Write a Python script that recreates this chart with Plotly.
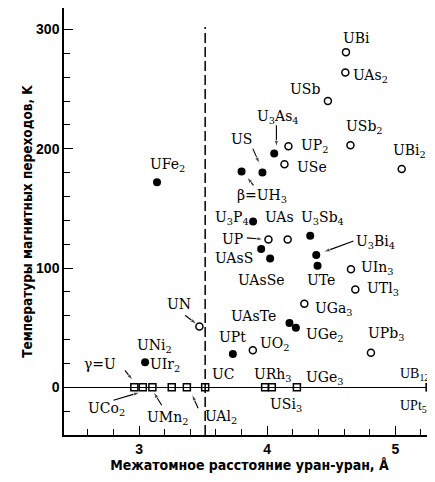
import plotly.graph_objects as go

# ---------------- data ----------------
filled_names = ["UFe2", "U3As4", "US", "β-UH3", "U3P4", "U3Sb4", "UAsS", "UAsSe",
                "U3Bi4", "UTe", "UAsTe", "UGe2", "UPt", "UNi2"]
filled_x = [3.14, 4.055, 3.963, 3.80, 3.89, 4.336, 3.953, 4.023,
            4.383, 4.393, 4.174, 4.224, 3.732, 3.047]
filled_y = [172, 196, 180, 181, 139, 127, 116, 108,
            111, 102, 54, 50, 28, 21]

open_names = ["UBi", "UAs2", "USb", "USb2", "UBi2", "UP2", "USe", "UP", "UAs",
              "UIn3", "UTl3", "UGa3", "UN", "UO2", "UPb3"]
open_x = [4.615, 4.61, 4.474, 4.65, 5.05, 4.166, 4.135, 4.01, 4.16,
          4.654, 4.688, 4.29, 3.471, 3.888, 4.81]
open_y = [281, 264, 240, 203, 183, 202, 187, 124, 124,
          99, 82, 70, 51, 31, 29]

square_names = ["γ-U", "UCo2", "UMn2", "UIr2", "UAl2", "UC", "URh3", "USi3",
                "UGe3", "UB12", "UPt5"]
square_x = [2.963, 3.029, 3.104, 3.255, 3.373, 3.516, 3.984, 4.036,
            4.232, 5.268, 5.278]
square_y = [0, 0, 0, 0, 0, 0, 0, 0, 0, 0, 0]

hill_limit = 3.516

x_title = "Межатомное расстояние уран-уран, Å"
y_title = "Температуры магнитных переходов, K"

# label texts with their placement (left edge x, middle y, in data units)
labels = [
    ("UFe<sub>2</sub>", 3.07, 186),
    ("UBi", 4.577, 293),
    ("UAs<sub>2</sub>", 4.655, 261),
    ("USb", 4.166, 250),
    ("U<sub>3</sub>As<sub>4</sub>", 3.906, 227),
    ("US", 3.70, 208),
    ("UP<sub>2</sub>", 4.245, 202),
    ("USe", 4.22, 185),
    ("USb<sub>2</sub>", 4.60, 218),
    ("UBi<sub>2</sub>", 4.966, 198),
    ("β=UH<sub>3</sub>", 3.745, 160),
    ("U<sub>3</sub>P<sub>4</sub>", 3.576, 142),
    ("UAs", 3.966, 143),
    ("U<sub>3</sub>Sb<sub>4</sub>", 4.252, 142),
    ("UP", 3.633, 124.6),
    ("UAsS", 3.58, 108),
    ("UAsSe", 3.758, 90),
    ("UTe", 4.297, 90),
    ("U<sub>3</sub>Bi<sub>4</sub>", 4.68, 122),
    ("UIn<sub>3</sub>", 4.72, 100),
    ("UTl<sub>3</sub>", 4.766, 82),
    ("UGa<sub>3</sub>", 4.357, 66),
    ("UAsTe", 3.70, 59.5),
    ("UGe<sub>2</sub>", 4.284, 44),
    ("UPb<sub>3</sub>", 4.77, 45),
    ("UPt", 3.607, 42),
    ("UO<sub>2</sub>", 3.932, 36),
    ("UN", 3.203, 70),
    ("UNi<sub>2</sub>", 2.969, 35),
    ("UIr<sub>2</sub>", 3.073, 18.5),
    ("γ=U", 2.552, 19.8),
    ("UCo<sub>2</sub>", 2.586, -18),
    ("UMn<sub>2</sub>", 3.047, -26),
    ("UAl<sub>2</sub>", 3.50, -24.5),
    ("UC", 3.55, 10.9),
    ("URh<sub>3</sub>", 3.88, 10),
    ("UGe<sub>3</sub>", 4.289, 7.5),
    ("USi<sub>3</sub>", 4.01, -15),
]
# labels at the right edge, set in a narrower face so they stay inside the page
edge_labels = [
    ("UB<sub>12</sub>", 5.03, 11),
    ("UPt<sub>5</sub>", 5.03, -16),
]

# arrows: (tail x, tail y, tip x, tip y)
arrows = [
    (3.359, 60.4, 3.451, 52.8),     # UN
    (3.888, 200.1, 3.940, 187.5),   # US
    (4.072, 219.6, 4.072, 201.4),   # U3As4
    (3.893, 169.3, 3.841, 176.3),   # beta-UH3
    (3.841, 125.3, 3.971, 124.1),   # UP
    (4.674, 122.6, 4.440, 113.4),   # U3Bi4
    (2.890, 14.2, 2.951, 5.9),      # gamma-U
    (2.800, -10.9, 3.008, -4.2),    # UCo2
    (3.177, -15.1, 3.112, -3.9),    # UMn2
    (3.461, -17.6, 3.412, -5.9),    # UAl2
    (5.250, 6.7, 5.283, 2.0),       # UB12
]

# ---------------- figure ----------------
serif = "DejaVu Serif, Liberation Serif, serif"
serif_narrow = "Liberation Serif, DejaVu Serif, serif"
sans = "Liberation Sans, Arial, sans-serif"
cond = "DejaVu Sans Condensed, Liberation Sans Narrow, Liberation Sans, sans-serif"

fig = go.Figure()

for tx, ty, hx, hy in arrows:
    fig.add_trace(go.Scatter(x=[tx, hx], y=[ty, hy], mode="lines+markers",
                             line=dict(color="black", width=1.1),
                             marker=dict(symbol="arrow", size=[0, 7], angleref="previous",
                                         color="black"),
                             cliponaxis=False, hoverinfo="skip"))

fig.add_trace(go.Scatter(x=filled_x, y=filled_y, mode="markers", text=filled_names,
                         marker=dict(symbol="circle", size=8, color="black"),
                         cliponaxis=False, hoverinfo="text"))
fig.add_trace(go.Scatter(x=open_x, y=open_y, mode="markers", text=open_names,
                         marker=dict(symbol="circle-open", size=7, color="black",
                                     line=dict(width=1.5, color="black")),
                         cliponaxis=False, hoverinfo="text"))
fig.add_trace(go.Scatter(x=square_x, y=square_y, mode="markers", text=square_names,
                         marker=dict(symbol="square-open", size=7, color="black",
                                     line=dict(width=1.5, color="black")),
                         cliponaxis=False, hoverinfo="text"))

fig.add_shape(type="line", x0=hill_limit, x1=hill_limit, y0=-40, y1=302,
              xref="x", yref="y",
              line=dict(color="black", width=1.5, dash="10px,4px"))

for txt, lx, ly in labels:
    fig.add_annotation(x=lx, y=ly, text=txt, showarrow=False, xanchor="left",
                       yanchor="middle", font=dict(family=serif, size=14, color="black"))
for txt, lx, ly in edge_labels:
    fig.add_annotation(x=lx, y=ly, text=txt, showarrow=False, xanchor="left",
                       yanchor="middle", borderpad=0,
                       font=dict(family=serif_narrow, size=14, color="black"))

axis_common = dict(showline=True, linecolor="black", linewidth=1.5, showgrid=False,
                   automargin=False,
                   ticks="inside", ticklen=9, tickwidth=1, tickcolor="black",
                   tickfont=dict(family=sans, size=14, color="black", weight="bold"))

# the page body adds an 8px offset, so the figure is sized to fill the window from there
fig.update_layout(
    width=427, height=474,
    margin=dict(l=56, r=0, t=0, b=47),
    paper_bgcolor="white", plot_bgcolor="white",
    showlegend=False,
    xaxis=dict(range=[2.414, 5.31], tick0=0, dtick=1, zeroline=False,
               minor=dict(tick0=0, dtick=0.2, ticks="inside", ticklen=6, tickcolor="black"),
               title=dict(text=x_title, standoff=3,
                          font=dict(family=cond, size=14, color="black", weight="bold")),
               **axis_common),
    yaxis=dict(range=[-40, 318], tick0=0, dtick=100,
               zeroline=True, zerolinecolor="black", zerolinewidth=1,
               minor=dict(tick0=0, dtick=20, ticks="inside", ticklen=6, tickcolor="black"),
               title=dict(text=y_title, standoff=0,
                          font=dict(family=cond, size=13.5, color="black", weight="bold")),
               **axis_common),
)

fig.write_html("out.html")
